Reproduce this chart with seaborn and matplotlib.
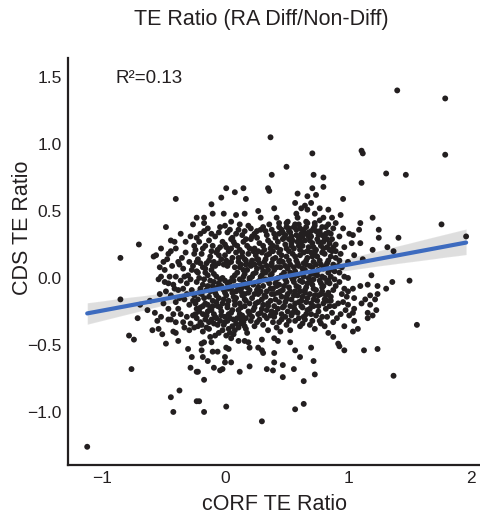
import numpy as np
import pandas as pd
import matplotlib
matplotlib.use("Agg")
import matplotlib.pyplot as plt
import seaborn as sns

sns.set_style("white")
plt.rcParams["font.family"] = ["Liberation Sans", "DejaVu Sans"]
plt.rcParams["axes.unicode_minus"] = True

# (cORF TE ratio, CDS TE ratio), by region
top_pts = [
    (0.37, 1.05), (0.71, 0.93), (0.50, 0.83), (0.38, 0.77), (0.72, 0.77), (0.80, 0.75),
    (0.01, 0.67), (0.15, 0.67), (0.35, 0.67), (0.71, 0.67), (0.80, 0.68),
    (1.40, 1.40), (1.79, 1.34), (1.11, 0.95), (1.12, 0.93), (1.79, 0.92), (1.31, 0.78),
    (1.47, 0.77), (1.11, 0.71),
    (-0.11, 0.55), (-0.03, 0.60), (0.08, 0.64), (0.17, 0.59), (0.36, 0.65), (0.59, 0.63),
    (0.67, 0.61), (0.74, 0.62), (-0.10, 0.48), (-0.17, 0.45), (-0.17, 0.41), (-0.01, 0.48),
    (0.05, 0.42), (0.09, 0.47), (0.16, 0.48), (0.27, 0.50), (0.29, 0.45), (0.40, 0.52),
    (0.42, 0.45), (0.44, 0.41), (0.51, 0.42), (0.57, 0.56), (0.62, 0.52), (0.65, 0.54),
    (0.67, 0.51), (0.58, 0.48), (0.59, 0.45), (0.70, 0.56), (0.73, 0.48), (0.77, 0.52),
    (0.80, 0.45), (0.66, 0.42), (0.73, 0.41),
]

right_pts = [
    (0.96, 0.59), (1.76, 0.40), (1.96, 0.31), (1.41, 0.30), (1.25, 0.36), (1.25, 0.30),
    (1.20, 0.45), (1.10, 0.41), (1.09, 0.36), (0.94, 0.47), (1.32, 0.23), (1.37, 0.20),
    (1.20, 0.21), (1.12, 0.14), (1.50, -0.02), (1.36, -0.03), (1.31, -0.08), (1.19, 0.02),
    (1.24, -0.06), (1.16, -0.05), (1.10, -0.06), (1.24, -0.12), (1.18, -0.13), (1.22, -0.16),
    (1.23, -0.24), (1.18, -0.20), (1.16, -0.26), (1.20, -0.28),
    (0.84, 0.51), (0.90, 0.41), (0.88, 0.37), (0.86, 0.33), (1.01, 0.33), (1.04, 0.32),
    (1.03, 0.26), (1.10, 0.26), (0.85, 0.26), (0.88, 0.23), (0.90, 0.25), (0.85, 0.21),
    (0.87, 0.20), (0.90, 0.20), (0.94, 0.18), (1.05, 0.17), (0.86, 0.16), (0.90, 0.15),
    (0.93, 0.13), (1.00, 0.12), (0.88, 0.10), (0.92, 0.09), (0.85, 0.06), (0.89, 0.05),
    (1.00, 0.00), (0.93, 0.04), (0.86, 0.01), (0.85, -0.04), (0.89, -0.01), (0.90, -0.06),
    (0.88, -0.09), (0.97, -0.08), (0.95, -0.12), (0.99, -0.14), (1.00, -0.10), (1.04, -0.08),
    (1.05, -0.15), (1.14, -0.16), (0.86, -0.14), (0.86, -0.17), (0.92, -0.19), (0.96, -0.18),
    (0.89, -0.21), (0.85, -0.21), (1.00, -0.20), (1.05, -0.23), (1.04, -0.26), (1.11, -0.19),
    (0.94, -0.27), (1.01, -0.28), (1.16, -0.30),
    (1.56, -0.35), (1.24, -0.53), (1.13, -0.54), (1.37, -0.73), (0.97, -0.54), (0.92, -0.49),
    (0.93, -0.51), (0.88, -0.44), (0.84, -0.41), (0.88, -0.33), (0.97, -0.36), (1.05, -0.32),
    (1.04, -0.40), (1.08, -0.38),
    (0.87, 0.29), (0.93, 0.31), (0.97, 0.23), (0.95, 0.08), (0.97, 0.01), (0.93, -0.03),
    (0.87, -0.26), (0.91, -0.30), (0.98, -0.24), (0.87, 0.45), (0.96, 0.37),
]

left_pts = [
    (-0.40, 0.59), (-0.23, 0.45), (-0.26, 0.40), (-0.48, 0.38), (-0.70, 0.25), (-0.85, 0.15),
    (-0.44, 0.28), (-0.41, 0.27), (-0.44, 0.20), (-0.32, 0.19), (-0.25, 0.24), (-0.25, 0.18),
    (-0.56, 0.17), (-0.58, 0.16), (-0.47, 0.14), (-0.38, 0.12), (-0.37, 0.10), (-0.23, 0.12),
    (-0.53, 0.08), (-0.49, 0.06), (-0.34, 0.07), (-0.45, 0.01), (-0.40, 0.01), (-0.52, 0.01),
    (-0.54, -0.01), (-0.30, 0.02), (-0.23, 0.05), (-0.49, -0.03), (-0.46, -0.04), (-0.42, -0.05),
    (-0.41, -0.08), (-0.38, -0.09), (-0.31, -0.04), (-0.34, -0.08), (-0.27, -0.09), (-0.48, -0.10),
    (-0.53, -0.12), (-0.25, -0.13), (-0.37, -0.15), (-0.61, -0.17), (-0.85, -0.16), (-0.69, -0.20),
    (-0.63, -0.24), (-0.57, -0.26), (-0.46, -0.23), (-0.38, -0.23), (-0.36, -0.27), (-0.31, -0.29),
    (-0.23, -0.23), (-0.71, -0.30), (-0.52, -0.29), (-0.46, -0.31), (-0.26, -0.28),
    (-0.78, -0.43), (-0.74, -0.46), (-0.59, -0.39), (-0.54, -0.38), (-0.51, -0.42), (-0.48, -0.49),
    (-0.42, -0.40), (-0.40, -0.41), (-0.38, -0.47), (-0.33, -0.37), (-0.29, -0.39), (-0.25, -0.37),
    (-0.30, -0.53), (-0.27, -0.59), (-0.28, -0.67), (-0.23, -0.70), (-0.76, -0.68), (-0.37, -0.84),
    (-0.44, -0.89), (-0.42, -1.00), (-0.23, -0.92), (-1.12, -1.26), (-0.44, -0.31), (-0.40, -0.33),
    (-0.52, 0.22), (-0.46, 0.18), (-0.40, 0.22), (-0.35, 0.15), (-0.29, 0.12), (-0.32, 0.27),
    (-0.28, 0.31), (-0.36, 0.33), (-0.50, 0.12), (-0.43, 0.09), (-0.27, 0.06), (-0.33, 0.01),
    (-0.36, -0.02), (-0.28, -0.01), (-0.44, -0.13), (-0.40, -0.18), (-0.33, -0.16), (-0.29, -0.20),
    (-0.50, -0.19), (-0.42, -0.27), (-0.34, -0.33), (-0.28, -0.34), (-0.55, -0.32), (-0.26, 0.09),
    (-0.31, -0.12), (-0.26, -0.17),
]

bottom_pts = [
    (-0.21, -0.92), (-0.17, -1.00), (0.01, -0.96), (0.30, -1.07), (0.57, -0.98), (0.64, -0.94),
    (0.64, -0.77), (0.73, -0.72), (0.47, -0.74), (0.56, -0.68), (0.47, -0.65), (0.40, -0.63),
    (0.34, -0.68), (0.39, -0.69), (0.20, -0.66), (0.12, -0.70), (-0.04, -0.69), (-0.02, -0.68),
    (-0.09, -0.67), (-0.17, -0.76), (-0.22, -0.70), (0.05, -0.63), (0.00, -0.63), (0.00, -0.59),
    (-0.14, -0.62), (-0.18, -0.59), (-0.19, -0.54), (-0.10, -0.55), (-0.06, -0.55), (0.01, -0.52),
    (0.03, -0.53), (0.31, -0.56), (0.40, -0.56), (0.20, -0.52), (0.27, -0.52), (0.30, -0.54),
    (0.61, -0.59), (0.70, -0.52), (0.72, -0.62), (0.57, -0.54), (0.53, -0.48), (0.43, -0.47),
    (0.40, -0.45), (0.30, -0.46), (0.19, -0.48), (0.16, -0.47), (0.11, -0.47), (0.05, -0.45),
    (0.04, -0.41), (-0.08, -0.43), (-0.11, -0.48), (-0.19, -0.49), (-0.17, -0.48),
]

core_pts = [
    (-0.20, 0.33), (-0.14, 0.37), (-0.08, 0.31), (-0.04, 0.38), (0.02, 0.34), (0.06, 0.30),
    (0.11, 0.36), (0.14, 0.32), (0.19, 0.39), (0.22, 0.31), (0.26, 0.35), (0.31, 0.38),
    (0.34, 0.32), (0.38, 0.36), (0.41, 0.30), (0.47, 0.34), (0.50, 0.38), (0.54, 0.31),
    (0.58, 0.36), (0.62, 0.33), (0.66, 0.38), (0.70, 0.31), (0.74, 0.35), (0.79, 0.32),
    (0.82, 0.38), (0.12, 0.40), (0.36, 0.40), (0.60, 0.40),
    (-0.21, 0.27), (-0.18, 0.22), (-0.13, 0.28), (-0.10, 0.24), (-0.06, 0.21), (-0.02, 0.27),
    (0.01, 0.23), (0.05, 0.29), (0.08, 0.25), (0.12, 0.21), (0.15, 0.27), (0.18, 0.24),
    (0.21, 0.29), (0.24, 0.22), (0.28, 0.26), (0.32, 0.21), (0.35, 0.28), (0.39, 0.24),
    (0.43, 0.27), (0.45, 0.21), (0.49, 0.25), (0.52, 0.29), (0.56, 0.22), (0.59, 0.27),
    (0.63, 0.24), (0.67, 0.20), (0.69, 0.28), (0.72, 0.23), (0.76, 0.27), (0.80, 0.22),
    (0.83, 0.29), (0.03, 0.20), (0.26, 0.30), (0.47, 0.29), (0.61, 0.21),
    (-0.22, 0.14), (-0.19, 0.18), (-0.15, 0.11), (-0.12, 0.16), (-0.09, 0.12), (-0.07, 0.19),
    (-0.03, 0.14), (0.00, 0.17), (0.03, 0.11), (0.06, 0.15), (0.09, 0.19), (0.11, 0.12),
    (0.14, 0.16), (0.17, 0.10), (0.19, 0.18), (0.22, 0.13), (0.25, 0.17), (0.28, 0.11),
    (0.30, 0.19), (0.33, 0.14), (0.36, 0.18), (0.38, 0.11), (0.41, 0.15), (0.44, 0.19),
    (0.47, 0.12), (0.50, 0.16), (0.53, 0.10), (0.55, 0.18), (0.58, 0.13), (0.61, 0.17),
    (0.64, 0.11), (0.67, 0.15), (0.70, 0.19), (0.72, 0.12), (0.75, 0.16), (0.78, 0.10),
    (0.81, 0.18), (0.84, 0.13), (-0.01, 0.10), (0.23, 0.20), (0.39, 0.20), (0.52, 0.20),
    (0.66, 0.10), (0.13, 0.10),
    (-0.22, 0.04), (-0.18, 0.08), (-0.14, 0.02), (-0.11, 0.06), (-0.08, 0.09), (-0.07, 0.01),
    (0.10, 0.04), (0.12, 0.08), (0.15, 0.01), (0.18, 0.06), (0.21, 0.09), (0.23, 0.03),
    (0.26, 0.07), (0.29, 0.01), (0.31, 0.05), (0.34, 0.09), (0.37, 0.02), (0.40, 0.06),
    (0.43, 0.00), (0.45, 0.08), (0.48, 0.04), (0.51, 0.07), (0.54, 0.01), (0.57, 0.05),
    (0.60, 0.09), (0.62, 0.03), (0.65, 0.06), (0.68, 0.00), (0.71, 0.08), (0.73, 0.03),
    (0.76, 0.06), (0.79, 0.01), (0.82, 0.09), (0.84, 0.04), (0.02, 0.09), (-0.02, 0.00),
    (0.06, 0.00), (0.20, 0.00), (0.38, 0.09), (0.56, 0.00),
    (-0.23, -0.03), (-0.20, -0.08), (-0.17, -0.01), (-0.14, -0.06), (-0.12, -0.10), (-0.09, -0.03),
    (-0.06, -0.07), (-0.04, -0.01), (-0.01, -0.09), (0.02, -0.04), (0.05, -0.08), (0.07, -0.02),
    (0.10, -0.06), (0.13, -0.10), (0.15, -0.03), (0.18, -0.07), (0.20, -0.01), (0.23, -0.05),
    (0.26, -0.09), (0.28, -0.02), (0.31, -0.06), (0.34, -0.10), (0.36, -0.04), (0.39, -0.08),
    (0.42, -0.01), (0.44, -0.05), (0.47, -0.09), (0.50, -0.03), (0.52, -0.07), (0.55, -0.01),
    (0.58, -0.06), (0.61, -0.10), (0.63, -0.03), (0.66, -0.07), (0.69, -0.02), (0.71, -0.05),
    (0.74, -0.09), (0.77, -0.02), (0.80, -0.06), (0.83, -0.03), (0.09, -0.10), (0.33, -0.01),
    (0.57, -0.10), (0.79, -0.10),
    (-0.22, -0.16), (-0.19, -0.12), (-0.16, -0.19), (-0.13, -0.14), (-0.10, -0.17), (-0.08, -0.11),
    (-0.05, -0.15), (-0.02, -0.19), (0.01, -0.13), (0.03, -0.17), (0.06, -0.11), (0.09, -0.15),
    (0.12, -0.19), (0.14, -0.13), (0.17, -0.17), (0.19, -0.11), (0.22, -0.15), (0.25, -0.19),
    (0.27, -0.12), (0.30, -0.16), (0.33, -0.14), (0.35, -0.19), (0.38, -0.12), (0.41, -0.16),
    (0.43, -0.11), (0.46, -0.14), (0.49, -0.18), (0.51, -0.12), (0.54, -0.16), (0.57, -0.19),
    (0.59, -0.13), (0.62, -0.17), (0.65, -0.11), (0.67, -0.15), (0.70, -0.19), (0.73, -0.13),
    (0.75, -0.17), (0.78, -0.12), (0.81, -0.16), (0.84, -0.11),
    (-0.21, -0.25), (-0.18, -0.21), (-0.15, -0.28), (-0.12, -0.23), (-0.09, -0.27), (-0.06, -0.21),
    (-0.03, -0.25), (0.00, -0.29), (0.02, -0.22), (0.05, -0.26), (0.08, -0.20), (0.11, -0.24),
    (0.14, -0.28), (0.16, -0.21), (0.19, -0.25), (0.22, -0.29), (0.24, -0.22), (0.27, -0.27),
    (0.30, -0.23), (0.32, -0.28), (0.35, -0.21), (0.38, -0.25), (0.40, -0.29), (0.43, -0.23),
    (0.46, -0.27), (0.48, -0.21), (0.51, -0.25), (0.54, -0.28), (0.56, -0.22), (0.59, -0.26),
    (0.62, -0.21), (0.64, -0.29), (0.67, -0.24), (0.70, -0.27), (0.72, -0.21), (0.76, -0.25),
    (0.79, -0.29), (0.82, -0.23),
    (-0.20, -0.33), (-0.15, -0.37), (-0.11, -0.31), (-0.06, -0.35), (-0.02, -0.39), (0.02, -0.32),
    (0.06, -0.36), (0.10, -0.30), (0.13, -0.34), (0.17, -0.38), (0.21, -0.32), (0.24, -0.36),
    (0.28, -0.31), (0.31, -0.35), (0.35, -0.39), (0.39, -0.33), (0.42, -0.37), (0.46, -0.31),
    (0.50, -0.35), (0.53, -0.39), (0.57, -0.32), (0.61, -0.36), (0.65, -0.31), (0.69, -0.35),
    (0.73, -0.38), (0.77, -0.32), (0.81, -0.36), (0.08, -0.39), (0.45, -0.40),
]

core_fill_pts = [
    (-0.17, 0.35), (-0.11, 0.33), (-0.05, 0.34), (0.00, 0.39), (0.04, 0.36), (0.09, 0.33),
    (0.16, 0.35), (0.21, 0.37), (0.24, 0.33), (0.29, 0.36), (0.33, 0.35), (0.40, 0.33),
    (0.44, 0.38), (0.49, 0.32), (0.52, 0.35), (0.56, 0.38), (0.60, 0.30), (0.64, 0.36),
    (0.68, 0.34), (0.72, 0.37), (0.77, 0.35), (0.81, 0.30), (0.84, 0.34), (-0.23, 0.30),
    (0.07, 0.27), (0.17, 0.29), (0.37, 0.26), (0.54, 0.26), (0.65, 0.28), (0.78, 0.24),
    (-0.24, 0.21), (-0.16, 0.24), (-0.11, 0.20), (-0.04, 0.23), (0.00, 0.25), (0.05, 0.22),
    (0.10, 0.24), (0.14, 0.19), (0.20, 0.22), (0.27, 0.20), (0.31, 0.24), (0.34, 0.17),
    (0.37, 0.22), (0.42, 0.23), (0.46, 0.17), (0.50, 0.22), (0.54, 0.24), (0.57, 0.16),
    (0.60, 0.24), (0.64, 0.19), (0.68, 0.23), (0.71, 0.16), (0.74, 0.21), (0.79, 0.19),
    (0.83, 0.23), (-0.05, 0.17), (0.16, 0.14), (0.26, 0.14), (0.45, 0.13), (0.73, 0.19),
    (-0.20, 0.11), (-0.16, 0.07), (-0.13, 0.13), (-0.10, 0.09), (-0.05, 0.11), (0.01, 0.13),
    (0.05, 0.12), (0.08, 0.08), (0.11, 0.15), (0.15, 0.06), (0.17, 0.13), (0.21, 0.11),
    (0.24, 0.10), (0.27, 0.14), (0.30, 0.08), (0.32, 0.12), (0.35, 0.06), (0.39, 0.14),
    (0.42, 0.08), (0.44, 0.12), (0.49, 0.09), (0.52, 0.13), (0.56, 0.08), (0.59, 0.11),
    (0.63, 0.07), (0.66, 0.13), (0.69, 0.09), (0.74, 0.10), (0.77, 0.13), (0.80, 0.07),
    (0.83, 0.11),
    (-0.21, 0.00), (-0.16, 0.04), (-0.12, -0.02), (-0.09, 0.03), (-0.05, -0.04), (0.00, -0.02),
    (0.04, -0.03), (0.08, 0.02), (0.12, -0.01), (0.16, 0.03), (0.19, -0.04), (0.22, 0.01),
    (0.25, 0.04), (0.27, -0.03), (0.30, 0.02), (0.33, 0.04), (0.35, -0.02), (0.38, 0.03),
    (0.41, -0.04), (0.46, 0.02), (0.49, -0.01), (0.53, 0.04), (0.56, -0.03), (0.59, 0.02),
    (0.61, -0.02), (0.64, 0.01), (0.67, -0.04), (0.70, 0.03), (0.72, -0.01), (0.75, 0.02),
    (0.78, -0.04), (0.81, 0.00), (0.84, -0.02),
    (-0.21, -0.11), (-0.18, -0.05), (-0.15, -0.09), (-0.10, -0.06), (-0.07, -0.13), (-0.03, -0.06),
    (0.00, -0.11), (0.03, -0.08), (0.07, -0.14), (0.11, -0.08), (0.14, -0.07), (0.16, -0.12),
    (0.20, -0.09), (0.24, -0.12), (0.27, -0.07), (0.29, -0.10), (0.32, -0.13), (0.37, -0.08),
    (0.40, -0.12), (0.42, -0.06), (0.45, -0.10), (0.48, -0.06), (0.50, -0.14), (0.53, -0.10),
    (0.56, -0.13), (0.60, -0.07), (0.63, -0.14), (0.65, -0.09), (0.69, -0.12), (0.72, -0.08),
    (0.76, -0.13), (0.79, -0.07), (0.82, -0.13),
    (-0.24, -0.19), (-0.20, -0.22), (-0.17, -0.15), (-0.14, -0.20), (-0.11, -0.24), (-0.07, -0.18),
    (-0.04, -0.22), (-0.01, -0.16), (0.02, -0.20), (0.06, -0.24), (0.08, -0.17), (0.13, -0.22),
    (0.16, -0.16), (0.20, -0.19), (0.23, -0.24), (0.27, -0.18), (0.31, -0.20), (0.34, -0.24),
    (0.37, -0.17), (0.40, -0.21), (0.44, -0.18), (0.47, -0.22), (0.50, -0.16), (0.53, -0.21),
    (0.57, -0.24), (0.60, -0.18), (0.63, -0.22), (0.66, -0.18), (0.69, -0.23), (0.72, -0.16),
    (0.76, -0.21), (0.80, -0.19), (0.83, -0.17),
    (-0.23, -0.30), (-0.18, -0.27), (-0.13, -0.33), (-0.08, -0.29), (-0.04, -0.32), (0.03, -0.27),
    (0.07, -0.31), (0.12, -0.27), (0.17, -0.30), (0.20, -0.27), (0.26, -0.33), (0.29, -0.26),
    (0.34, -0.30), (0.37, -0.28), (0.41, -0.26), (0.44, -0.33), (0.49, -0.29), (0.52, -0.32),
    (0.55, -0.26), (0.60, -0.30), (0.63, -0.34), (0.66, -0.27), (0.71, -0.32), (0.74, -0.28),
    (0.78, -0.34), (0.83, -0.29),
]

# denser lower-left and upper-right parts of the cloud
tilt_pts = [
    (-0.22, -0.36), (-0.18, -0.40), (-0.13, -0.38), (-0.09, -0.34), (-0.05, -0.41), (-0.01, -0.35),
    (0.03, -0.38), (0.07, -0.42), (0.11, -0.37), (0.15, -0.33), (0.18, -0.41), (-0.16, -0.31),
    (-0.07, -0.30), (0.00, -0.33), (0.09, -0.34), (-0.24, -0.27), (-0.14, -0.25), (-0.03, -0.28),
    (0.04, -0.30), (-0.10, -0.21), (0.13, -0.31), (-0.19, -0.35), (0.01, -0.43), (0.16, -0.36),
    (-0.12, -0.44),
    (0.46, 0.36), (0.50, 0.41), (0.53, 0.34), (0.57, 0.40), (0.61, 0.37), (0.63, 0.31),
    (0.67, 0.41), (0.70, 0.35), (0.73, 0.39), (0.76, 0.32), (0.79, 0.38), (0.82, 0.33),
    (0.48, 0.30), (0.55, 0.28), (0.62, 0.27), (0.68, 0.31), (0.75, 0.29), (0.80, 0.27),
    (0.84, 0.40), (0.58, 0.32), (0.65, 0.33), (0.71, 0.26), (0.52, 0.37), (0.77, 0.43),
    (0.44, 0.33),
]

title = "TE Ratio (RA Diff/Non-Diff)"
x_label = "cORF TE Ratio"
y_label = "CDS TE Ratio"
r2_label = "R²=0.13"
x_ticks = [-1, 0, 1, 2]
y_ticks = [-1.0, -0.5, 0.0, 0.5, 1.0, 1.5]

pts = top_pts + right_pts + left_pts + bottom_pts + core_pts + core_fill_pts + tilt_pts
df = pd.DataFrame(pts, columns=["corf", "cds"])

ink = "#231f20"
fig = plt.figure(figsize=(4.81, 5.22), dpi=100)
ax = fig.add_axes([0.1414, 0.1092, 0.8586, 0.7797])

sns.scatterplot(data=df, x="corf", y="cds", ax=ax, s=18, color=ink,
                edgecolor="none", linewidth=0, zorder=3)
# grey confidence band, then blue fit line on top
sns.regplot(data=df, x="corf", y="cds", ax=ax, scatter=False, color="0.15",
            seed=0, line_kws=dict(lw=0), truncate=True)
sns.regplot(data=df, x="corf", y="cds", ax=ax, scatter=False, ci=None,
            color="#3d6bbf", line_kws=dict(lw=3.0, zorder=4), truncate=True)

ax.set_xlim(-1.276, 2.081)
ax.set_ylim(-1.396, 1.642)
ax.set_xticks(x_ticks)
ax.set_yticks(y_ticks)
ax.set_xticklabels([f"{t:g}".replace("-", "\u2212") for t in x_ticks])
ax.set_yticklabels([f"{t:.1f}".replace("-", "\u2212") for t in y_ticks])

for side in ["top", "right"]:
    ax.spines[side].set_visible(False)
for side in ["left", "bottom"]:
    ax.spines[side].set_color(ink)
    ax.spines[side].set_linewidth(1.6)
ax.tick_params(axis="both", direction="out", length=2.5, width=1.0, color="0.45",
               labelsize=12.5, labelcolor=ink, pad=2)

ax.set_xlabel(x_label, fontsize=15.5, color=ink)
ax.set_ylabel(y_label, fontsize=15.5, color=ink)
ax.xaxis.set_label_coords(0.5, -0.098)
ax.xaxis.label.set_va("center")
ax.yaxis.set_label_coords(-0.11, 0.582)
ax.yaxis.label.set_va("center")

ax.text(-0.886, 1.49, r2_label, fontsize=13.5, color=ink, ha="left", va="center")
fig.text(261 / 481, 1 - 20 / 522, title, fontsize=15.5, color=ink, ha="center", va="center")

fig.savefig("out.png", dpi=100)
